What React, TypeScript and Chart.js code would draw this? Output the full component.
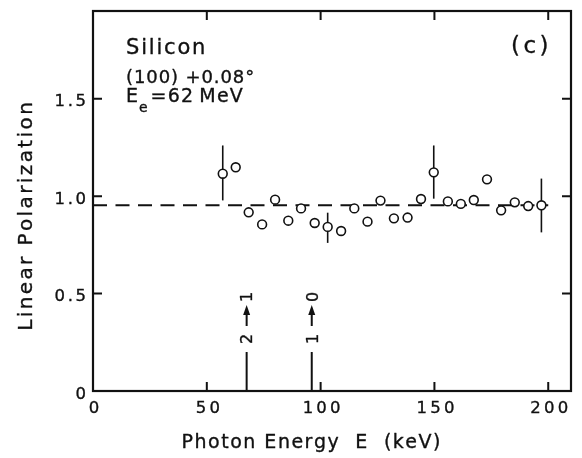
import { useEffect, useRef } from 'react';
import { Chart, registerables } from 'chart.js';

Chart.register(...registerables);

// Measured linear polarization versus photon energy, Si (100)+0.08°, Ee = 62 MeV
const energies = [57.0, 62.7, 68.4, 74.3, 80.0, 85.8, 91.4, 97.4, 103.1, 109.0, 114.8, 120.6, 126.3, 132.2, 138.2, 144.1, 149.7, 155.9, 161.6, 167.3, 173.1, 179.3, 185.3, 191.2, 197.0];
const polarization = [1.115, 1.148, 0.917, 0.855, 0.982, 0.874, 0.937, 0.862, 0.842, 0.821, 0.937, 0.869, 0.977, 0.886, 0.89, 0.985, 1.122, 0.973, 0.96, 0.98, 1.086, 0.927, 0.968, 0.949, 0.953];
// Error bar limits (null where no bar is shown)
const errHigh = [1.26, null, null, null, null, null, null, null, 0.915, null, null, null, null, null, null, null, 1.26, null, null, null, null, null, null, null, 1.09];
const errLow = [0.978, null, null, null, null, null, null, null, 0.76, null, null, null, null, null, null, null, 0.987, null, null, null, null, null, null, null, 0.814];

// Mean polarization level (dashed) and its energy span
const meanLevel = 0.953;
const meanSpan = [0, 200];

// Channeling transition energies and their level labels
const transitionEnergies = [67.5, 96.1];
const transitionFrom = ['2', '1'];
const transitionTo = ['1', '0'];
const transitionHeight = 0.2;

// Axis ranges and tick labels
const xRange = [0, 210];
const yRange = [0, 1.95];
const xTicks = [0, 50, 100, 150, 200];
const xTickLabels = ['0', '50', '100', '150', '200'];
const yTicks = [0, 0.5, 1.0, 1.5];
const yTickLabels = ['0', '0.5', '1.0', '1.5'];

const xTitle = 'Photon Energy  E  (keV)';
const yTitle = 'Linear Polarization';

const INK = '#111111';
const FONT = '"DejaVu Sans", "Liberation Sans", sans-serif';

function spacedWidth(ctx: CanvasRenderingContext2D, text: string, spacing: number) {
  const chars = Array.from(text);
  let w = 0;
  for (const ch of chars) w += ctx.measureText(ch).width;
  return w + spacing * (chars.length - 1);
}

// Draws text with extra letter spacing; glyphs get a thin outline for a heavier stroke
function drawSpaced(
  ctx: CanvasRenderingContext2D,
  text: string,
  x: number,
  y: number,
  spacing: number,
  align: 'left' | 'center' | 'right' = 'left'
) {
  const w = spacedWidth(ctx, text, spacing);
  let cx = align === 'left' ? x : align === 'center' ? x - w / 2 : x - w;
  ctx.textAlign = 'left';
  ctx.textBaseline = 'alphabetic';
  ctx.save();
  ctx.lineWidth = 0.35;
  ctx.lineJoin = 'round';
  for (const ch of Array.from(text)) {
    ctx.fillText(ch, cx, y);
    ctx.strokeText(ch, cx, y);
    cx += ctx.measureText(ch).width + spacing;
  }
  ctx.restore();
  return cx - spacing;
}

const decorations = {
  id: 'decorations',
  beforeDatasetsDraw(chart: any) {
    const { ctx, scales } = chart;
    const x = scales.x;
    const y = scales.y;
    ctx.save();
    ctx.strokeStyle = INK;
    ctx.lineWidth = 1.6;
    energies.forEach((e, i) => {
      const hi = errHigh[i];
      const lo = errLow[i];
      if (hi == null || lo == null) return;
      const px = x.getPixelForValue(e);
      ctx.beginPath();
      ctx.moveTo(px, y.getPixelForValue(hi));
      ctx.lineTo(px, y.getPixelForValue(lo));
      ctx.stroke();
    });
    ctx.restore();
  },
  afterDraw(chart: any) {
    const { ctx, chartArea, scales } = chart;
    const x = scales.x;
    const y = scales.y;
    const { left, right, top, bottom } = chartArea;
    ctx.save();
    ctx.strokeStyle = INK;
    ctx.fillStyle = INK;

    // frame
    ctx.lineWidth = 2.2;
    ctx.strokeRect(left, top, right - left, bottom - top);

    // inward ticks on all four sides
    const tl = 9;
    ctx.lineWidth = 2;
    ctx.beginPath();
    yTicks.forEach((v) => {
      if (v === yRange[0]) return;
      const py = y.getPixelForValue(v);
      ctx.moveTo(left, py);
      ctx.lineTo(left + tl, py);
      ctx.moveTo(right, py);
      ctx.lineTo(right - tl, py);
    });
    xTicks.forEach((v) => {
      if (v === xRange[0]) return;
      const px = x.getPixelForValue(v);
      ctx.moveTo(px, bottom);
      ctx.lineTo(px, bottom - tl);
      ctx.moveTo(px, top);
      ctx.lineTo(px, top + tl);
    });
    ctx.stroke();

    // tick labels
    const tickSize = 16.5;
    ctx.font = `${tickSize}px ${FONT}`;
    yTicks.forEach((v, i) => {
      const py = y.getPixelForValue(v) + 1.5;
      drawSpaced(ctx, yTickLabels[i], 86, py + tickSize * 0.365, 2.6, 'right');
    });
    xTicks.forEach((v, i) => {
      const px = x.getPixelForValue(v);
      drawSpaced(ctx, xTickLabels[i], px + 1, 407 + tickSize * 0.365, 3.2, 'center');
    });

    // axis titles
    ctx.font = `19px ${FONT}`;
    drawSpaced(ctx, xTitle, 311, 448, 1.5, 'center');
    ctx.save();
    ctx.font = `20px ${FONT}`;
    ctx.translate(31.5, 216.5);
    ctx.rotate(-Math.PI / 2);
    drawSpaced(ctx, yTitle, 0, 0, 2.4, 'center');
    ctx.restore();

    // transition markers: vertical line, level labels and arrow
    ctx.lineWidth = 2;
    const base = y.getPixelForValue(0);
    const lineTop = y.getPixelForValue(transitionHeight);
    transitionEnergies.forEach((e, i) => {
      const px = x.getPixelForValue(e);
      ctx.beginPath();
      ctx.moveTo(px, base);
      ctx.lineTo(px, lineTop);
      ctx.stroke();
      // arrow shaft and head
      ctx.lineWidth = 2;
      ctx.beginPath();
      ctx.moveTo(px, lineTop - 26);
      ctx.lineTo(px, lineTop - 38);
      ctx.stroke();
      ctx.beginPath();
      ctx.moveTo(px, lineTop - 47);
      ctx.lineTo(px - 3.5, lineTop - 37);
      ctx.lineTo(px + 3.5, lineTop - 37);
      ctx.closePath();
      ctx.fill();
      // rotated level numbers
      ctx.save();
      ctx.font = `16px ${FONT}`;
      ctx.translate(px + 5.8, lineTop - 13);
      ctx.rotate(-Math.PI / 2);
      drawSpaced(ctx, transitionFrom[i], 0, 0, 0, 'center');
      ctx.restore();
      ctx.save();
      ctx.font = `16px ${FONT}`;
      ctx.translate(px + 5.8, lineTop - 55);
      ctx.rotate(-Math.PI / 2);
      drawSpaced(ctx, transitionTo[i], 0, 0, 0, 'center');
      ctx.restore();
    });

    // sample description
    ctx.font = `21px ${FONT}`;
    drawSpaced(ctx, 'Silicon', 126, 53.5, 1.8, 'left');
    ctx.font = `18px ${FONT}`;
    drawSpaced(ctx, '(100) +0.08°', 126, 82.5, 0.9, 'left');
    ctx.font = `19px ${FONT}`;
    let cx = drawSpaced(ctx, 'E', 126, 102, 0, 'left');
    ctx.font = `14px ${FONT}`;
    cx = drawSpaced(ctx, 'e', cx + 1, 112, 0, 'left');
    ctx.font = `19px ${FONT}`;
    drawSpaced(ctx, '=62\u2009MeV', cx + 3, 102, 1.2, 'left');

    // panel label
    ctx.font = `23px ${FONT}`;
    drawSpaced(ctx, '(c)', 511, 53, 3.5, 'left');

    ctx.restore();
  },
};

export default function App() {
  const canvasRef = useRef<HTMLCanvasElement | null>(null);

  useEffect(() => {
    const canvas = canvasRef.current;
    if (!canvas) return;
    const chart = new Chart(canvas, {
      type: 'scatter',
      data: {
        datasets: [
          {
            label: 'Polarization',
            data: energies.map((e, i) => ({ x: e, y: polarization[i] })),
            pointStyle: 'circle',
            pointRadius: 4.4,
            pointHoverRadius: 4.4,
            pointBackgroundColor: '#ffffff',
            pointBorderColor: INK,
            pointBorderWidth: 1.6,
            showLine: false,
          },
          {
            type: 'line',
            label: 'Mean',
            data: meanSpan.map((e) => ({ x: e, y: meanLevel })),
            borderColor: INK,
            borderWidth: 2,
            borderDash: [14, 8.5],
            pointRadius: 0,
            fill: false,
          },
        ],
      },
      options: {
        responsive: false,
        animation: false,
        devicePixelRatio: 1,
        layout: { padding: { left: 93, right: 11, top: 11, bottom: 67 } },
        plugins: {
          legend: { display: false },
          tooltip: { enabled: false },
        },
        events: [],
        scales: {
          x: { type: 'linear', min: xRange[0], max: xRange[1], display: false },
          y: { type: 'linear', min: yRange[0], max: yRange[1], display: false },
        },
      },
      plugins: [decorations],
    } as any);
    return () => chart.destroy();
  }, []);

  return (
    <div style={{ position: 'fixed', left: 0, top: 0, width: 582, height: 458, background: '#ffffff' }}>
      <canvas ref={canvasRef} width={582} height={458} style={{ display: 'block' }} />
    </div>
  );
}
